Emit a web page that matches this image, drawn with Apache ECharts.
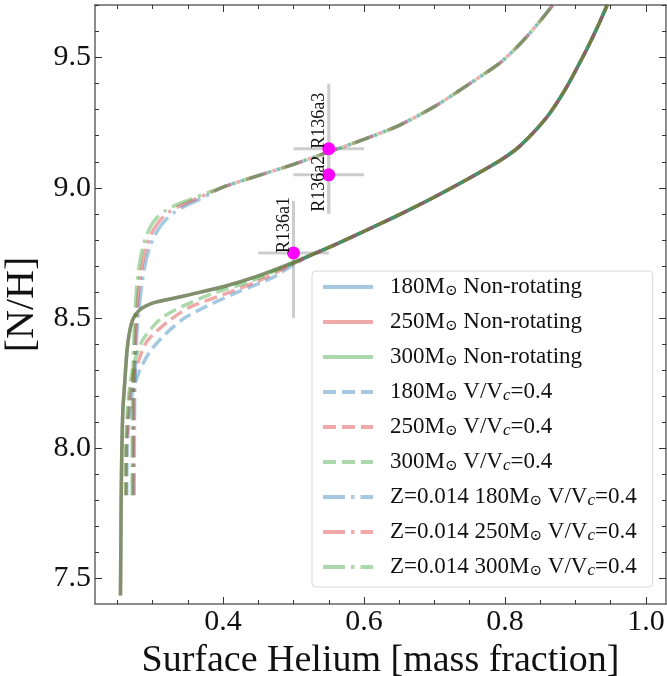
<!DOCTYPE html>
<html>
<head>
<meta charset="utf-8">
<script src="https://cdn.jsdelivr.net/npm/echarts@6/dist/echarts.min.js"></script>
<style>
  html, body { margin: 0; padding: 0; background: #fff; }
  #main { width: 667px; height: 676px; }
</style>
</head>
<body>
<div id="main"></div>
<script>
// surface N/H vs surface He, R136 models
const font = "'Liberation Serif', 'DejaVu Serif', serif";

// axis ticks
const xMajor = [0.4, 0.6, 0.8, 1.0];
const xMinor = [0.25, 0.3, 0.35, 0.45, 0.5, 0.55, 0.65, 0.7, 0.75, 0.85, 0.9, 0.95];
const yMajor = [7.5, 8.0, 8.5, 9.0, 9.5];
const yMinor = [7.6, 7.7, 7.8, 7.9, 8.1, 8.2, 8.3, 8.4, 8.6, 8.7, 8.8, 8.9, 9.1, 9.2, 9.3, 9.4, 9.6, 9.7];

// common upper part of the non-rotating / rotating tracks
const lowerBranch = [[0.525, 8.742], [0.556, 8.778], [0.604, 8.838], [0.651, 8.898], [0.698, 8.962],
  [0.746, 9.032], [0.793, 9.105], [0.821, 9.160], [0.859, 9.270], [0.887, 9.385], [0.916, 9.532],
  [0.932, 9.622], [0.945, 9.702]];
// non-rotating (the three masses lie on top of each other)
const nonRot = [[0.2545, 7.435], [0.2550, 7.60], [0.2555, 7.80], [0.2565, 8.00], [0.2580, 8.15],
  [0.2605, 8.25], [0.2640, 8.38], [0.2680, 8.455], [0.2730, 8.50], [0.2820, 8.532], [0.2950, 8.552],
  [0.3060, 8.562], [0.3300, 8.576], [0.3530, 8.590], [0.4000, 8.620], [0.4480, 8.660], [0.4950, 8.708]];
// V/Vc = 0.4
const rot180 = [[0.2635, 7.82], [0.2640, 8.00], [0.2670, 8.12], [0.2720, 8.22], [0.2820, 8.30],
  [0.2960, 8.37], [0.3150, 8.43], [0.3430, 8.496], [0.3770, 8.546], [0.4240, 8.603], [0.4710, 8.656], [0.4990, 8.704]];
const rot250 = [[0.2625, 7.82], [0.2630, 8.00], [0.2660, 8.15], [0.2710, 8.26], [0.2780, 8.32],
  [0.2920, 8.41], [0.3210, 8.485], [0.3530, 8.542], [0.4000, 8.590], [0.4480, 8.640], [0.4950, 8.702]];
const rot300 = [[0.2615, 7.82], [0.2620, 8.00], [0.2650, 8.17], [0.2700, 8.28], [0.2750, 8.34],
  [0.2870, 8.42], [0.3110, 8.496], [0.3430, 8.546], [0.3910, 8.600], [0.4380, 8.640], [0.4950, 8.705]];
// Z = 0.014, V/Vc = 0.4
const upperBranch = [[0.400, 9.003], [0.450, 9.047], [0.500, 9.090], [0.550, 9.138], [0.600, 9.186],
  [0.650, 9.240], [0.700, 9.312], [0.750, 9.400], [0.793, 9.480], [0.815, 9.535], [0.835, 9.593],
  [0.852, 9.648], [0.868, 9.702]];
const zrot180 = [[0.2740, 7.82], [0.2742, 8.00], [0.2750, 8.25], [0.2780, 8.45], [0.2835, 8.60],
  [0.2890, 8.70], [0.2970, 8.78], [0.3080, 8.84], [0.3190, 8.878], [0.3310, 8.906], [0.3430, 8.926],
  [0.3620, 8.950], [0.3810, 8.976]];
const zrot250 = [[0.2725, 7.82], [0.2727, 8.00], [0.2735, 8.25], [0.2760, 8.45], [0.2800, 8.60],
  [0.2850, 8.70], [0.2920, 8.78], [0.3020, 8.842], [0.3125, 8.881], [0.3245, 8.909], [0.3365, 8.928],
  [0.3575, 8.953], [0.3790, 8.978]];
const zrot300 = [[0.2710, 7.82], [0.2712, 8.00], [0.2720, 8.25], [0.2740, 8.45], [0.2770, 8.60],
  [0.2810, 8.70], [0.2870, 8.78], [0.2960, 8.845], [0.3060, 8.885], [0.3180, 8.912], [0.3300, 8.930],
  [0.3530, 8.955], [0.3770, 8.980]];

// observed stars
const stars = ['R136a1', 'R136a2', 'R136a3'];
const starHe = [0.50, 0.55, 0.55];
const starHeErr = [0.05, 0.05, 0.05];
const starNH = [8.75, 9.05, 9.15];
const starNHLow = [8.50, 8.90, 8.90];
const starNHHigh = [8.95, 9.20, 9.40];

const blue = 'rgba(31,119,180,0.4)';
const red = 'rgba(214,39,40,0.4)';
const green = 'rgba(44,160,44,0.4)';
const dashed = [13, 6];
const dashdot = [22, 6, 3.5, 6];

function track(name, pts, color, type) {
  return {
    name: name, type: 'line', data: pts, symbol: 'none', showSymbol: false,
    smooth: 0.25, z: 3,
    lineStyle: { color: color, width: 3.5, type: type, cap: 'butt' },
    itemStyle: { color: color }
  };
}

const curves = [
  track('180M⊙ Non-rotating', nonRot.concat(lowerBranch), blue, 'solid'),
  track('250M⊙ Non-rotating', nonRot.concat(lowerBranch), red, 'solid'),
  track('300M⊙ Non-rotating', nonRot.concat(lowerBranch), green, 'solid'),
  track('180M⊙ V/Vc=0.4', rot180.concat(lowerBranch), blue, dashed),
  track('250M⊙ V/Vc=0.4', rot250.concat(lowerBranch), red, dashed),
  track('300M⊙ V/Vc=0.4', rot300.concat(lowerBranch), green, dashed),
  track('Z=0.014 180M⊙ V/Vc=0.4', zrot180.concat(upperBranch), blue, dashdot),
  track('Z=0.014 250M⊙ V/Vc=0.4', zrot250.concat(upperBranch), red, dashdot),
  track('Z=0.014 300M⊙ V/Vc=0.4', zrot300.concat(upperBranch), green, dashdot)
];

const errData = stars.map((s, i) => [starHe[i], starNH[i], starHeErr[i], starNHLow[i], starNHHigh[i]]);
const labelDrop = { R136a2: 37 };

function xAxisOf(pos, ticks, len, major) {
  return {
    type: 'value', position: pos, min: 0.2184, max: 1.0284,
    axisLine: { show: major, onZero: false, lineStyle: { color: '#666', width: 1.5 } },
    axisTick: { show: true, inside: true, length: len, customValues: ticks, lineStyle: { color: '#333', width: 1 } },
    axisLabel: { show: false },
    splitLine: { show: false }
  };
}
function yAxisOf(pos, ticks, len, major) {
  return {
    type: 'value', position: pos, min: 7.402, max: 9.702,
    axisLine: { show: major, onZero: false, lineStyle: { color: '#666', width: 1.5 } },
    axisTick: { show: true, inside: true, length: len, customValues: ticks, lineStyle: { color: '#333', width: 1 } },
    axisLabel: { show: false },
    splitLine: { show: false }
  };
}

const xMain = xAxisOf('bottom', xMajor, 7, true);
xMain.axisLabel = { show: true, customValues: xMajor, formatter: v => v.toFixed(1), fontSize: 30, fontFamily: font, color: '#111', margin: 3 };
xMain.name = 'Surface Helium [mass fraction]';
xMain.nameLocation = 'middle';
xMain.nameGap = 30;
xMain.nameTextStyle = { fontSize: 38, fontFamily: font, color: '#111' };

const yMain = yAxisOf('left', yMajor, 7, true);
yMain.axisLabel = { show: true, customValues: yMajor, formatter: v => v.toFixed(1), fontSize: 30, fontFamily: font, color: '#111', margin: 4 };
yMain.name = '[N/H]';
yMain.nameLocation = 'middle';
yMain.nameRotate = 90;
yMain.nameGap = 45;
yMain.nameTextStyle = { fontSize: 40, fontFamily: font, color: '#111' };

const chart = echarts.init(document.getElementById('main'), null, { renderer: 'canvas' });
chart.setOption({
  animation: false,
  backgroundColor: '#fff',
  grid: { left: 95, right: 1, top: 5, bottom: 72, containLabel: false, outerBoundsMode: 'none' },
  xAxis: [xMain, xAxisOf('top', xMajor, 7, true), xAxisOf('bottom', xMinor, 4, false), xAxisOf('top', xMinor, 4, false)],
  yAxis: [yMain, yAxisOf('right', yMajor, 7, true), yAxisOf('left', yMinor, 4, false), yAxisOf('right', yMinor, 4, false)],
  legend: {
    data: curves.map(c => c.name),
    orient: 'vertical',
    left: 312, top: 271,
    padding: [4, 16, 8, 9],
    itemWidth: 50, itemHeight: 14, itemGap: 11,
    backgroundColor: 'rgba(255,255,255,0.8)',
    borderColor: '#d8d8d8', borderWidth: 1, borderRadius: 4,
    itemStyle: { opacity: 0 },
    lineStyle: { width: 4 },
    formatter: n => n.replace('M⊙', 'M{sub|⊙}').replace('/Vc', '/V{c|c}'),
    textStyle: {
      fontFamily: font, fontSize: 23, color: '#111', lineHeight: 24, padding: [0, 0, 0, 12],
      rich: {
        sub: { fontFamily: font, fontSize: 15, lineHeight: 24, verticalAlign: 'bottom', color: '#111' },
        c: { fontFamily: font, fontSize: 17, fontStyle: 'italic', lineHeight: 24, verticalAlign: 'bottom', color: '#111' }
      }
    }
  },
  series: [
    {
      type: 'custom', name: 'err', data: errData, z: 2, silent: true,
      renderItem: function (params, api) {
        const x = api.value(0), y = api.value(1), dx = api.value(2);
        const a = api.coord([x - dx, y]), b = api.coord([x + dx, y]);
        const c = api.coord([x, api.value(3)]), d = api.coord([x, api.value(4)]);
        const st = { stroke: '#cdcdcd', lineWidth: 3 };
        return {
          type: 'group', children: [
            { type: 'line', shape: { x1: a[0], y1: a[1], x2: b[0], y2: b[1] }, style: st },
            { type: 'line', shape: { x1: c[0], y1: c[1], x2: d[0], y2: d[1] }, style: st }
          ]
        };
      }
    }
  ].concat(curves).concat([
    {
      type: 'scatter', name: 'stars', z: 5, symbolSize: 13,
      itemStyle: { color: '#ff00ff', opacity: 1 },
      data: stars.map((s, i) => ({
        name: s, value: [starHe[i], starNH[i]],
        label: {
          show: true, formatter: s, rotate: 90, align: 'left', verticalAlign: 'bottom',
          position: [6.5, 6.5 + (labelDrop[s] || 0)],
          fontFamily: font, fontSize: 18, color: '#111'
        }
      }))
    }
  ])
});
</script>
</body>
</html>
